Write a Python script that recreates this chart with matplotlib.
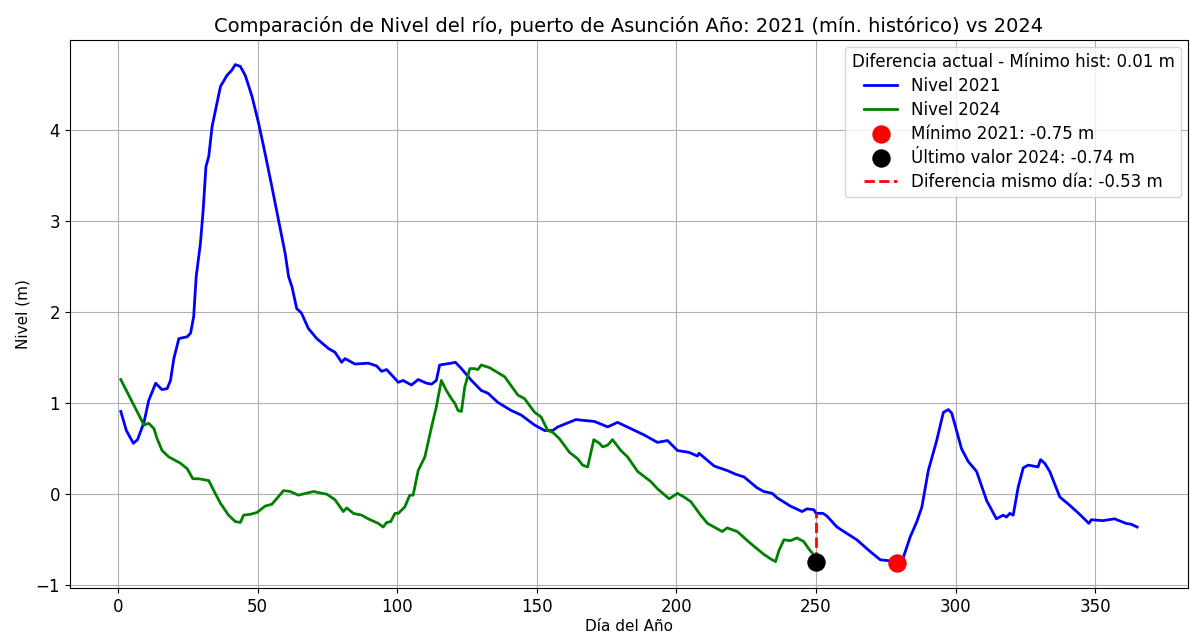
import matplotlib
matplotlib.use("Agg")
import matplotlib.pyplot as plt

dias_2021 = [1, 3, 5.5, 7, 9.3, 11, 13.5, 15.7, 17.6, 18.8, 20, 21.8, 24.8, 26, 27.1, 28, 29.5, 30.5,
             31.5, 32.5, 33.7, 36.7, 39, 40.8, 42, 43.8, 45.6, 48, 50.4, 52.7, 55.1, 57.5, 59.9,
             61.1, 62.3, 64, 65.7, 68.2, 71.2, 75.4, 77.7, 80.1, 81.3, 84.9, 89.6, 92.6, 94.4,
             96.2, 100.4, 102.1, 105.1, 107.5, 110.5, 112.3, 114, 115.2, 119.4, 120.8, 123,
             126.6, 130.1, 132.5, 136, 140.8, 144.4, 149.2, 152.8, 155.7, 157.5, 164, 170.6,
             175.4, 178.9, 183.7, 188.5, 193.2, 196.8, 200.4, 204.5, 207.5, 208.1, 213.5, 218.2,
             221.2, 224.2, 228.9, 231.3, 234.3, 236.1, 240.8, 245, 246.8, 249.2, 250, 252.5,
             253.9, 257.5, 261, 264.6, 269.4, 273, 276, 279, 281.3, 283.7, 286.1, 287.9, 290.2,
             293.2, 295.6, 297.4, 298.6, 302.1, 304.5, 307.5, 311.1, 314.6, 317, 318.2, 319.4,
             320.6, 322.4, 324.2, 326, 329.5, 330.4, 331.9, 333.7, 337.3, 340.8, 344.4, 347.7,
             348.6, 352.7, 356.9, 361, 362.9, 365]
nivel_2021 = [0.91, 0.70, 0.56, 0.60, 0.79, 1.03, 1.22, 1.15, 1.16, 1.25, 1.49, 1.71, 1.73, 1.77,
              1.95, 2.39, 2.75, 3.12, 3.60, 3.71, 4.04, 4.48, 4.60, 4.66, 4.72, 4.70, 4.60, 4.37,
              4.07, 3.74, 3.38, 3.01, 2.64, 2.39, 2.28, 2.04, 1.99, 1.82, 1.71, 1.60, 1.56, 1.45,
              1.49, 1.43, 1.44, 1.41, 1.35, 1.37, 1.23, 1.25, 1.20, 1.26, 1.22, 1.21, 1.25, 1.42,
              1.44, 1.45, 1.38, 1.25, 1.14, 1.11, 1.01, 0.92, 0.87, 0.76, 0.70, 0.70, 0.74, 0.82,
              0.80, 0.74, 0.79, 0.72, 0.65, 0.57, 0.59, 0.48, 0.46, 0.42, 0.45, 0.31, 0.26, 0.22,
              0.19, 0.07, 0.03, 0.01, -0.04, -0.13, -0.19, -0.16, -0.17, -0.21, -0.21, -0.24,
              -0.36, -0.43, -0.50, -0.63, -0.72, -0.73, -0.75, -0.69, -0.47, -0.30, -0.14, 0.26,
              0.59, 0.90, 0.93, 0.89, 0.50, 0.36, 0.25, -0.07, -0.27, -0.23, -0.25, -0.21, -0.23,
              0.08, 0.29, 0.32, 0.30, 0.38, 0.34, 0.25, -0.03, -0.12, -0.22, -0.32, -0.28, -0.29,
              -0.27, -0.32, -0.33, -0.36]

dias_2024 = [1, 9.3, 11, 12.9, 14, 15.8, 18.2, 20.6, 22.4, 24.8, 26.8, 28.9, 32.5, 34.3, 36.7,
             39.6, 42, 43.8, 45, 47.4, 49.8, 52.7, 55.1, 59.3, 61.7, 64.6, 70, 74.8, 77.7, 80.7,
             81.9, 84.3, 87.3, 89.6, 93.2, 95, 96.2, 97.7, 99.2, 100.4, 102.7, 104.5, 105.7,
             107.5, 109.9, 112.3, 114, 115.8, 117.6, 119.4, 120.6, 121.8, 123, 124.2, 126,
             127.7, 128.9, 130.1, 133.1, 135.8, 138.5, 143.2, 145.6, 149.2, 151.5, 153.9, 155.7,
             158.1, 161.7, 164.6, 166.4, 168.2, 170.4, 172.4, 173.6, 175.4, 177.1, 180.1, 182.5,
             186.1, 190.8, 193.2, 197.4, 200.4, 202.7, 205.1, 208.7, 211.1, 213.5, 216.4, 218.2,
             221.8, 225.4, 228.9, 231.3, 233.7, 235.5, 236.7, 238.5, 240.8, 243.2, 245.6, 247.4,
             249, 250]
nivel_2024 = [1.26, 0.76, 0.78, 0.72, 0.61, 0.48, 0.41, 0.37, 0.34, 0.28, 0.17, 0.17, 0.15, 0.04,
              -0.10, -0.23, -0.30, -0.31, -0.23, -0.22, -0.20, -0.13, -0.11, 0.04, 0.03, -0.01,
              0.03, 0.00, -0.06, -0.19, -0.15, -0.21, -0.23, -0.27, -0.32, -0.36, -0.31, -0.30,
              -0.21, -0.21, -0.14, -0.01, -0.01, 0.26, 0.41, 0.74, 0.96, 1.25, 1.14, 1.05, 1.00,
              0.92, 0.91, 1.18, 1.38, 1.38, 1.37, 1.42, 1.39, 1.34, 1.29, 1.09, 1.05, 0.90, 0.85,
              0.70, 0.68, 0.61, 0.46, 0.39, 0.32, 0.30, 0.60, 0.56, 0.52, 0.54, 0.60, 0.48, 0.41,
              0.25, 0.14, 0.06, -0.05, 0.01, -0.03, -0.08, -0.23, -0.32, -0.36, -0.41, -0.37,
              -0.41, -0.51, -0.60, -0.66, -0.71, -0.74, -0.62, -0.50, -0.51, -0.48, -0.52, -0.60,
              -0.66, -0.74]

dia_min_2021 = 279
valor_min_2021 = -0.75
dia_ultimo_2024 = 250
valor_ultimo_2024 = -0.74
valor_2021_mismo_dia = -0.21
diferencia_mismo_dia = -0.53
diferencia_actual = 0.01

fig = plt.figure(figsize=(11.9, 6.35), dpi=100)
ax = fig.add_axes([0.0588, 0.074, 0.9395, 0.863])

ax.plot(dias_2021, nivel_2021, color="blue", lw=2, label="Nivel 2021")
ax.plot(dias_2024, nivel_2024, color="green", lw=2, label="Nivel 2024")
ax.scatter([dia_min_2021], [valor_min_2021], color="red", s=150, zorder=5,
           label=f"Mínimo 2021: {valor_min_2021:.2f} m")
ax.scatter([dia_ultimo_2024], [valor_ultimo_2024], color="black", s=150, zorder=5,
           label=f"Último valor 2024: {valor_ultimo_2024:.2f} m")
ax.plot([dia_ultimo_2024, dia_ultimo_2024], [valor_ultimo_2024, valor_2021_mismo_dia],
        color="red", ls="--", lw=2, label=f"Diferencia mismo día: {diferencia_mismo_dia:.2f} m")

ax.set_ylim(-1.03, 4.99)
ax.set_title("Comparación de Nivel del río, puerto de Asunción Año: 2021 (mín. histórico) vs 2024",
             fontsize=14)
ax.set_xlabel("Día del Año", fontsize=11, labelpad=2)
ax.set_ylabel("Nivel (m)", fontsize=11)
ax.tick_params(labelsize=12)
ax.grid(True)
ax.legend(loc="upper right", title=f"Diferencia actual - Mínimo hist: {diferencia_actual:.2f} m",
          fontsize=12, title_fontsize=12, labelspacing=0.35, borderaxespad=0.4)

fig.savefig("out.png", dpi=100)
